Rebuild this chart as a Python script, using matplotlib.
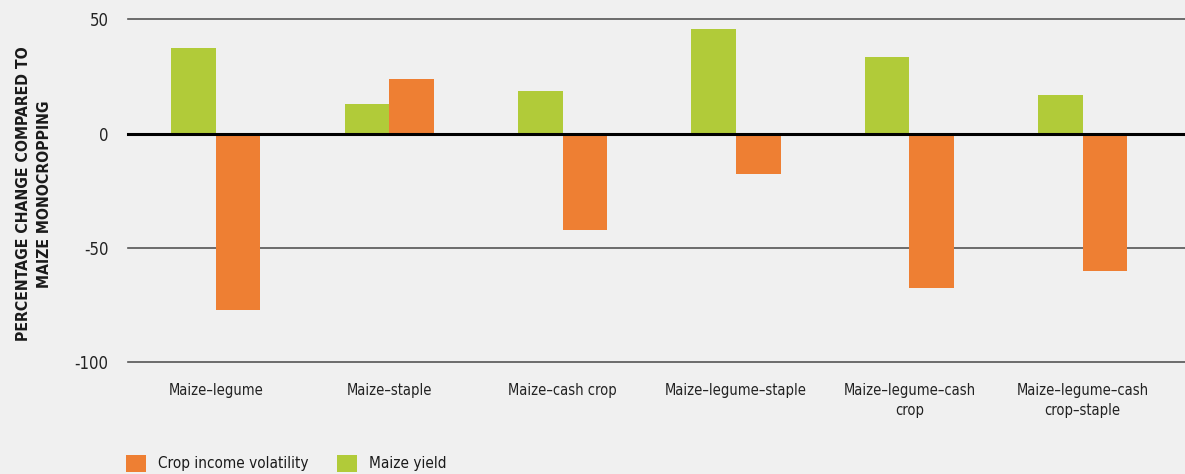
import matplotlib
matplotlib.use("Agg")
import matplotlib.pyplot as plt
import numpy as np

categories = ["Maize\u2013legume", "Maize\u2013staple", "Maize\u2013cash crop",
              "Maize\u2013legume\u2013staple", "Maize\u2013legume\u2013cash\ncrop",
              "Maize\u2013legume\u2013cash\ncrop\u2013staple"]
maize_yield = [37.4, 12.8, 18.5, 45.6, 33.4, 16.8]
crop_income_volatility = [-77.3, 23.8, -42.3, -17.8, -67.5, -60.1]
yticks = [-100, -50, 0, 50]

GREEN = "#B1CB39"
ORANGE = "#EE7F33"
BG = "#F0F0F0"

plt.rcParams['font.family'] = ["DejaVu Sans"]
plt.rcParams['font.stretch'] = "condensed"

fig = plt.figure(figsize=(11.85, 4.74), dpi=100, facecolor=BG)
ax = fig.add_axes([128/1185, 1 - 362/474, 1 - 128/1185, (362 - 19.3)/474])
ax.set_facecolor(BG)

x = np.arange(len(categories))
w = 0.257
b_y = ax.bar(x - w/2, maize_yield, width=w, color=GREEN, label="Maize yield", zorder=3)
b_v = ax.bar(x + w/2, crop_income_volatility, width=w, color=ORANGE,
             label="Crop income volatility", zorder=3)

ax.set_xlim(-0.507, 5.59)
ax.set_ylim(-100, 50)
for v in yticks:
    if v == 0:
        ax.axhline(v, color="black", lw=2.2, zorder=4, clip_on=False)
    else:
        ax.axhline(v, color="#555555", lw=1.2, zorder=1, clip_on=False)

for s in ax.spines.values():
    s.set_visible(False)

ax.set_yticks(yticks)
ax.set_yticklabels([str(v) for v in yticks])
ax.set_xticks(x)
ax.set_xticklabels(categories, linespacing=1.45)
ax.tick_params(axis='y', length=0, pad=14, labelsize=12, colors="#222222")
ax.tick_params(axis='x', length=0, pad=15, labelsize=10.5, colors="#222222")

fig.text(34/1185, 1 - 194/474, "PERCENTAGE CHANGE COMPARED TO\nMAIZE MONOCROPPING",
         rotation=90, ha="center", va="center", fontsize=11.3, fontweight="bold",
         color="#1a1a1a", linespacing=1.45)

fig.legend(handles=[b_v, b_y], labels=["Crop income volatility", "Maize yield"],
           loc="upper left", bbox_to_anchor=(126/1185, 1 - 455/474), ncol=2,
           frameon=False, fontsize=11, handlelength=1.31, handleheight=1.31,
           handletextpad=0.78, columnspacing=1.85, borderpad=0, borderaxespad=0,
           labelcolor="#1a1a1a")

fig.savefig("out.png", dpi=100, facecolor=BG)
